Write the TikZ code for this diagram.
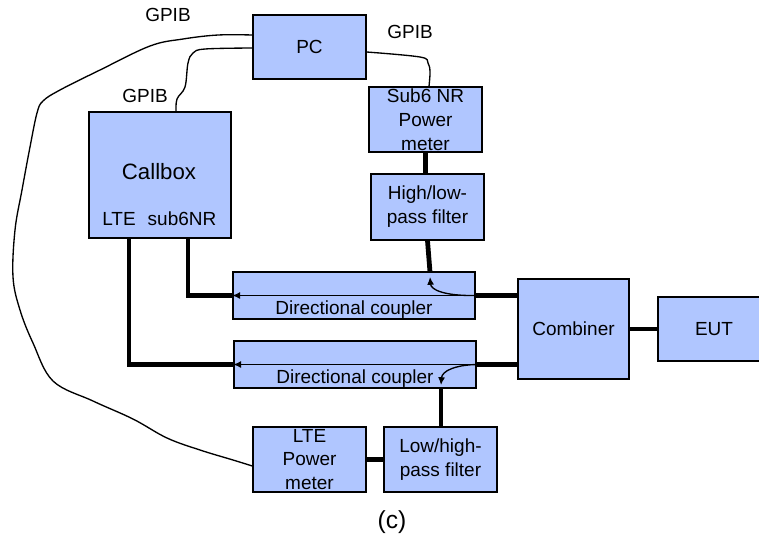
\documentclass[tikz,border=0pt]{standalone}
\usepackage{fontspec}
\setmainfont{Liberation Sans}
\usetikzlibrary{arrows.meta,calc}
\definecolor{boxblue}{RGB}{176,198,255}

\begin{document}
\begin{tikzpicture}[x=0.025cm, y=-0.025cm, font=\fontsize{13.5}{17}\selectfont,
 blk/.style={draw, line width=0.9pt, fill=boxblue, inner sep=0pt, align=center},
 rf/.style={line width=3.4pt},
 wire/.style={line width=0.95pt},
 tap/.style={line width=0.95pt, -{Latex[length=5.5pt,width=5pt]}}]

\useasboundingbox (0,0) rectangle (759,535);

\node[blk, minimum width=2.825cm, minimum height=1.6cm] (pc) at (309.5,47) {PC};
\node[blk, minimum width=3.55cm, minimum height=3.15cm] (callbox) at (160,175) {};
\node[font=\fontsize{15.8}{19}\selectfont] (cbname) at (159,172) {Callbox};
\node (lte) at (119,219) {LTE};
\node (nr) at (182,219) {sub6NR};
\node[blk, minimum width=2.825cm, minimum height=1.625cm] (nrpm) at (425.5,119.5) {Sub6 NR\\Power\\meter};
\node[blk, minimum width=2.825cm, minimum height=1.65cm] (hlf) at (427.5,207) {High/low-\\pass filter};
\node[blk, minimum width=6.05cm, minimum height=1.175cm] (dc1) at (354,295.5) {};
\node (dc1txt) at (354,310) {Directional coupler};
\node[blk, minimum width=6.05cm, minimum height=1.175cm] (dc2) at (355,364.5) {};
\node (dc2txt) at (355,379) {Directional coupler};
\node[blk, minimum width=2.775cm, minimum height=2.5cm] (comb) at (573.5,329) {Combiner};
\node[blk, minimum width=2.8cm, minimum height=1.6cm] (eut) at (714,329) {EUT};
\node[blk, minimum width=2.825cm, minimum height=1.625cm] (ltepm) at (309.5,459.5) {LTE\\Power\\meter};
\node[blk, minimum width=2.825cm, minimum height=1.625cm] (lhf) at (440.5,459.5) {Low/high-\\pass filter};

\node (gpiba) at (168,15) {GPIB};
\node (gpibb) at (145,96) {GPIB};
\node (gpibc) at (410,32) {GPIB};
\node[font=\fontsize{17.5}{20}\selectfont] (cap) at (392,522) {(c)};

\coordinate (nrport) at ($(callbox.south)+(28,0)$);
\coordinate (lteport) at ($(callbox.south)+(-31,0)$);
\coordinate (tapa) at (430,272);
\coordinate (tapb) at (441,388);

\draw[rf] (nrpm.south) -- (nrpm.south |- hlf.north);
\draw[rf] (hlf.south) -- (tapa);
\draw[tap] (dc1.east) .. controls (445,296) and (431,290) .. ($(tapa)+(0,5)$);
\draw[rf] (dc1.east) -- (dc1.east -| comb.west);
\draw[tap] (dc1.east) -- (dc1.west);
\draw[rf] (dc1.west) -| (nrport);

\draw[rf] (dc2.east) -- (dc2.east -| comb.west);
\draw[tap] (dc2.east) -- (dc2.west);
\draw[rf] (dc2.west) -| (lteport);
\draw[tap] (dc2.east) .. controls (455,365) and (442,371) .. ($(tapb)+(0,-3)$);
\draw[rf] (tapb) -- (tapb |- lhf.north);

\draw[rf] (comb.east) -- (eut.west);
\draw[rf] (ltepm.east) -- (lhf.west);

\coordinate (pcwa) at (pc.west |- 0,35);
\coordinate (pcwb) at (pc.west |- 0,48);
\coordinate (pcwc) at (pc.east |- 0,52);
\coordinate (ltew) at (ltepm.west |- 0,466);
\draw[wire] plot[smooth, tension=0.6] coordinates {(pcwa) (218,35) (183,39) (150,46) (100,70) (60,90) (43,101) (37,113) (30,147) (22,190) (15,230) (13,277) (20,310) (33,343) (53,381) (93,401) (133,419) (167,438) (200,450) (233,460) (ltew)};
\draw[wire] plot[smooth, tension=0.6] coordinates {(pcwb) (205,49) (193,53) (188,63) (185,87) (177,99) (176,112)};
\draw[wire] plot[smooth, tension=0.6] coordinates {(pcwc) (420,57) (428,63) (430,72) (nrpm.north -| 429,0)};
\end{tikzpicture}
\end{document}
